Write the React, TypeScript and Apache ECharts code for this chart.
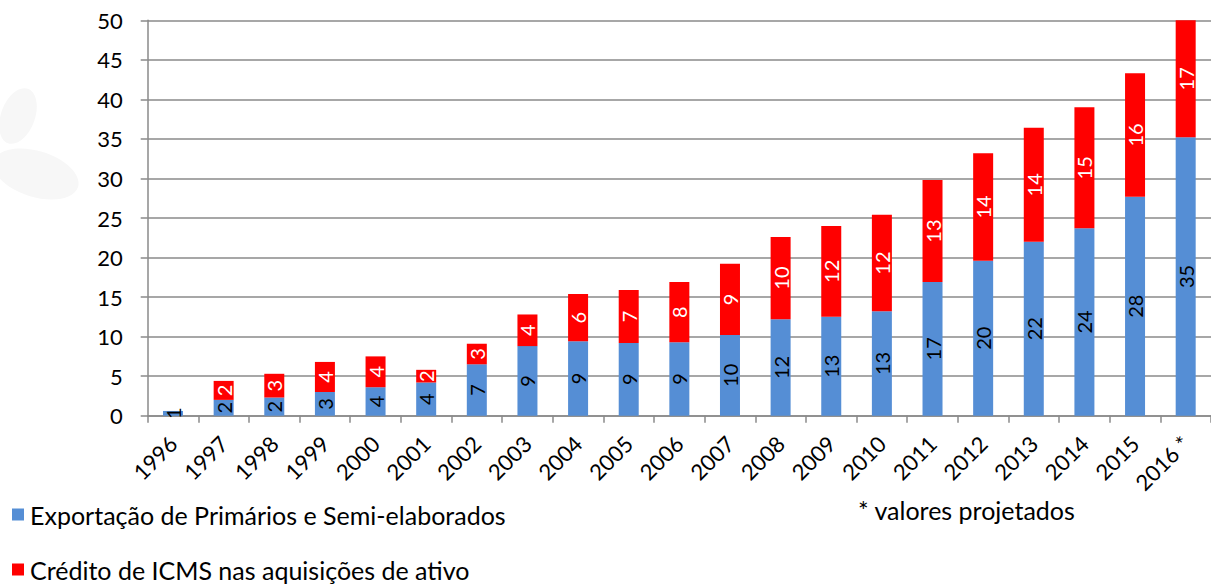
import React, { useEffect, useRef } from "react";
import * as echarts from "echarts";

const years = ["1996","1997","1998","1999","2000","2001","2002","2003","2004","2005","2006","2007","2008","2009","2010","2011","2012","2013","2014","2015","2016 *"];
const exportacao = [0.6,2.0,2.3,3.0,3.6,4.2,6.5,8.8,9.4,9.2,9.3,10.2,12.2,12.5,13.2,16.9,19.6,22.0,23.7,27.7,35.2];
const credito = [0,2.4,3.0,3.8,3.9,1.6,2.6,4.0,6.0,6.7,7.6,9.0,10.4,11.5,12.2,12.9,13.6,14.4,15.3,15.6,16.9];
const yTicks = { min: 0, max: 50, interval: 5 };
const seriesNames = ["Exportação de Primários e Semi-elaborados", "Crédito de ICMS nas aquisições de ativo"];
const note = "* valores projetados";

const FONT = "Lato, 'Open Sans', sans-serif";

export default function App() {
  const ref = useRef<HTMLDivElement>(null);
  useEffect(() => {
    if (!ref.current) return;
    const chart = echarts.init(ref.current, undefined, { renderer: "svg" });
    const fmt = (p: any) => (p.value > 0 ? String(Math.round(p.value)) : "");
    const legendBase = {
      orient: "vertical",
      left: 12,
      padding: 0,
      itemWidth: 12,
      itemHeight: 12,
      itemGap: 10,
      icon: "rect",
      textStyle: { fontFamily: FONT, fontSize: 25, color: "#000", padding: [0, 0, 0, 1] },
    };
    chart.setOption({
      animation: false,
      backgroundColor: "#ffffff",
      textStyle: { fontFamily: FONT },
      grid: { left: 147.7, right: -7, top: 20.3, bottom: 171.3, containLabel: false },
      legend: [
        { ...legendBase, top: 502, data: [seriesNames[0]] },
        { ...legendBase, top: 557, data: [seriesNames[1]] },
      ],
      xAxis: {
        type: "category",
        data: years,
        axisLine: { lineStyle: { color: "#8a8a8a", width: 1.5 } },
        axisTick: { show: true, length: 7, lineStyle: { color: "#8a8a8a", width: 1.5 } },
        axisLabel: { interval: 0, rotate: 45, fontSize: 22, color: "#000", fontFamily: FONT, margin: 24 },
      },
      yAxis: {
        type: "value",
        min: yTicks.min,
        max: yTicks.max,
        interval: yTicks.interval,
        axisLine: { show: true, lineStyle: { color: "#8a8a8a", width: 1.5 } },
        axisTick: { show: true, length: 7, lineStyle: { color: "#8a8a8a", width: 1.5 } },
        splitLine: { lineStyle: { color: "#8a8a8a", width: 1.5 } },
        axisLabel: { fontSize: 22, color: "#000", fontFamily: FONT, margin: 25 },
      },
      series: [
        {
          name: seriesNames[0],
          type: "bar",
          stack: "total",
          barWidth: 20,
          data: exportacao,
          itemStyle: { color: "#558ed5" },
          label: { show: true, position: "inside", rotate: 90, color: "#000", fontSize: 20, fontFamily: FONT, formatter: fmt },
        },
        {
          name: seriesNames[1],
          type: "bar",
          stack: "total",
          barWidth: 20,
          data: credito,
          itemStyle: { color: "#ff0000" },
          label: { show: true, position: "inside", rotate: 90, color: "#fff", fontSize: 20, fontFamily: FONT, formatter: fmt },
        },
      ],
      graphic: [
        {
          type: "ellipse",
          silent: true,
          z: -10,
          x: 18, y: 116, rotation: -0.35,
          shape: { cx: 0, cy: 0, rx: 17, ry: 29 },
          style: { fill: "#f7f7f7" },
        },
        {
          type: "ellipse",
          silent: true,
          z: -10,
          x: 36, y: 174, rotation: -0.3,
          shape: { cx: 0, cy: 0, rx: 44, ry: 23 },
          style: { fill: "#f7f7f7" },
        },
        {
          type: "text",
          left: 858,
          top: 497,
          style: { text: note, fontSize: 25, fontFamily: FONT, fill: "#000" },
        },
      ],
    });
    return () => chart.dispose();
  }, []);
  return <div ref={ref} style={{ position: "fixed", left: 0, top: 0, width: 1211, height: 587 }} />;
}
